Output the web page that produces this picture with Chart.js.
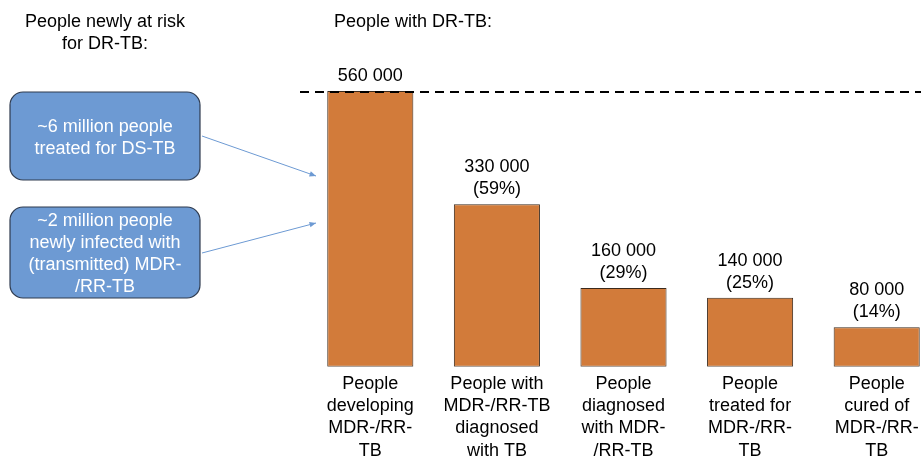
<!DOCTYPE html>
<html lang="en">
<head>
    <meta charset="UTF-8">
    <title>DR-TB cascade</title>
    <script src="https://cdn.jsdelivr.net/npm/chart.js"></script>
    <style>
        body { margin: 0; background: #fff; overflow: hidden; }
        .janela { width: 921px; height: 457px; overflow: hidden; position: relative; }
        canvas { display: block; }
    </style>
</head>
<body>
    <div class="janela">
        <canvas id="myChart" width="940" height="460"></canvas>
    </div>

<script>
    // dados do gráfico
    const categorias = [
        ["People", "developing", "MDR-/RR-", "TB"],
        ["People with", "MDR-/RR-TB", "diagnosed", "with TB"],
        ["People", "diagnosed", "with MDR-", "/RR-TB"],
        ["People", "treated for", "MDR-/RR-", "TB"],
        ["People", "cured of", "MDR-/RR-", "TB"]
    ];
    const pessoas = [560000, 330000, 160000, 140000, 80000];
    const rotulosValor = ["560 000", "330 000", "160 000", "140 000", "80 000"];
    const rotulosPct = ["", "(59%)", "(29%)", "(25%)", "(14%)"];
    const caixasRisco = [
        ["~6 million people", "treated for DS-TB"],
        ["~2 million people", "newly infected with", "(transmitted) MDR-", "/RR-TB"]
    ];

    const FONTE = '"Liberation Sans", Arial, sans-serif';
    const LARANJA = 'rgb(210, 123, 58)';
    const AZUL = 'rgb(109, 154, 211)';

    function seta(ctx, x1, y1, x2, y2) {
        ctx.beginPath();
        ctx.moveTo(x1, y1);
        ctx.lineTo(x2, y2);
        ctx.stroke();
        const ang = Math.atan2(y2 - y1, x2 - x1);
        ctx.beginPath();
        ctx.moveTo(x2, y2);
        ctx.lineTo(x2 - 7 * Math.cos(ang - 0.4), y2 - 7 * Math.sin(ang - 0.4));
        ctx.lineTo(x2 - 7 * Math.cos(ang + 0.4), y2 - 7 * Math.sin(ang + 0.4));
        ctx.closePath();
        ctx.fill();
    }

    const extras = {
        id: 'extras',
        afterDraw(chart) {
            const ctx = chart.ctx;
            const y = chart.scales.y;
            const meta = chart.getDatasetMeta(0);
            ctx.save();
            ctx.font = '18px ' + FONTE;
            ctx.fillStyle = '#000';
            ctx.textBaseline = 'middle';

            // títulos
            ctx.textAlign = 'center';
            ctx.fillText('People newly at risk', 105, 22);
            ctx.fillText('for DR-TB:', 105, 44);
            ctx.textAlign = 'left';
            ctx.fillText('People with DR-TB:', 334, 22);

            // linha tracejada no topo
            const yTopo = y.getPixelForValue(pessoas[0]) + 1;
            ctx.strokeStyle = '#000';
            ctx.lineWidth = 2;
            ctx.setLineDash([9, 6]);
            ctx.beginPath();
            ctx.moveTo(300, yTopo);
            ctx.lineTo(921, yTopo);
            ctx.stroke();
            ctx.setLineDash([]);

            // rótulos das barras
            ctx.textAlign = 'center';
            meta.data.forEach((bar, i) => {
                if (rotulosPct[i]) {
                    ctx.fillText(rotulosValor[i], bar.x, bar.y - 37);
                    ctx.fillText(rotulosPct[i], bar.x, bar.y - 15);
                } else {
                    ctx.fillText(rotulosValor[i], bar.x, bar.y - 15);
                }
            });

            // caixas da esquerda
            const caixas = [[10, 92, 190, 88], [10, 207, 190, 91]];
            caixas.forEach((c, i) => {
                ctx.beginPath();
                ctx.roundRect(c[0], c[1], c[2], c[3], 13);
                ctx.fillStyle = AZUL;
                ctx.fill();
                ctx.strokeStyle = '#2f3b4f';
                ctx.lineWidth = 1.2;
                ctx.stroke();
                ctx.fillStyle = '#fff';
                const linhas = caixasRisco[i];
                const meio = c[1] + c[3] / 2 + 2;
                linhas.forEach((t, j) => {
                    ctx.fillText(t, c[0] + c[2] / 2, meio + (j - (linhas.length - 1) / 2) * 22);
                });
            });

            // setas
            ctx.strokeStyle = AZUL;
            ctx.fillStyle = AZUL;
            ctx.lineWidth = 1;
            seta(ctx, 202, 136, 316, 176);
            seta(ctx, 202, 253, 316, 223);
            ctx.restore();
        }
    };

    new Chart(document.getElementById('myChart'), {
        type: 'bar',
        data: {
            labels: categorias,
            datasets: [{
                data: pessoas,
                backgroundColor: LARANJA,
                borderColor: '#3b2a1c',
                borderWidth: 1,
                borderSkipped: false,
                barPercentage: 0.68,
                categoryPercentage: 1
            }]
        },
        options: {
            responsive: false,
            animation: false,
            layout: { padding: { left: 307, right: 0, top: 91, bottom: 0 } },
            plugins: { legend: { display: false }, tooltip: { enabled: false } },
            scales: {
                y: { display: false, min: 0, max: 560000 },
                x: {
                    grid: { display: false },
                    border: { display: false },
                    ticks: {
                        color: '#000',
                        padding: -2,
                        maxRotation: 0,
                        autoSkip: false,
                        font: { family: FONTE, size: 18, lineHeight: 1.24 }
                    }
                }
            }
        },
        plugins: [extras]
    });
</script>
</body>
</html>
